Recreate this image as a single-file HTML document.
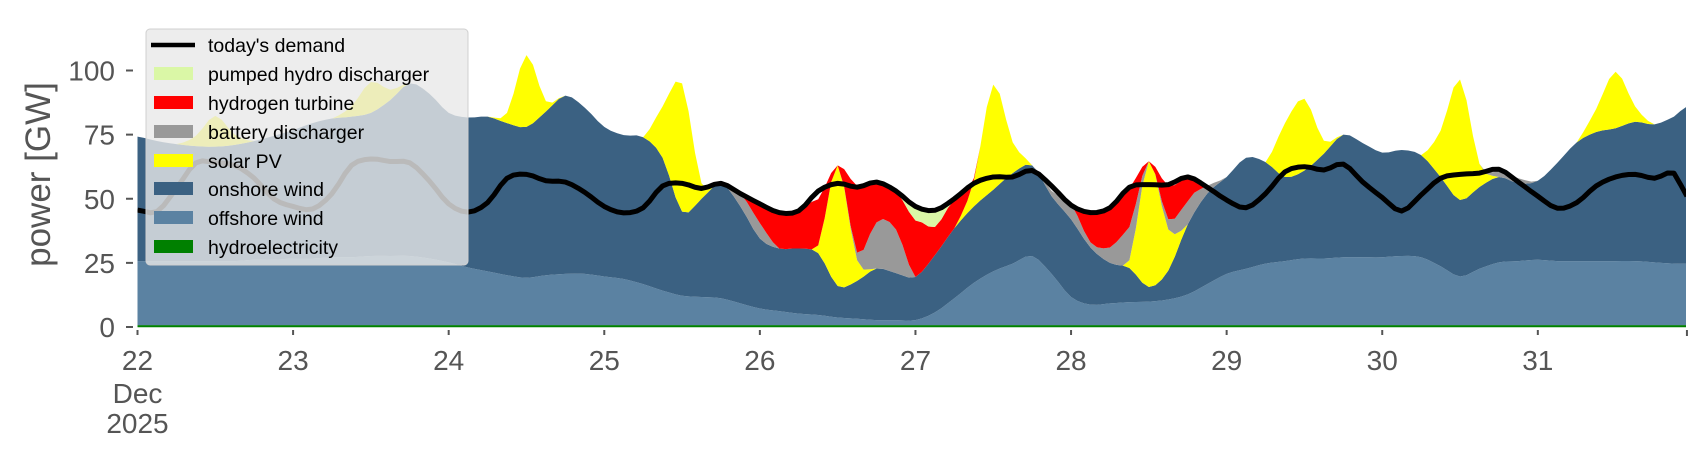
<!DOCTYPE html>
<html><head><meta charset="utf-8"><style>
html,body{margin:0;padding:0;background:#fff;}
svg{display:block;font-family:"Liberation Sans",sans-serif;}
</style></head><body>
<svg id="chart" width="1706" height="460" viewBox="0 0 1706 460" xmlns="http://www.w3.org/2000/svg">
<defs><clipPath id="plotclip"><rect x="137.5" y="0" width="1548.5" height="328"/></clipPath></defs>
<g id="areas" clip-path="url(#plotclip)"></g>
<g id="axes"></g>
<text transform="translate(50,174.5) rotate(-90)" text-anchor="middle" font-size="35" fill="#555">power [GW]</text>
<g>
<rect x="146" y="29" width="322" height="236" rx="4" fill="rgba(232,232,232,0.8)" stroke="#d0d0d0" stroke-width="1"/>
<g font-size="19.5" fill="#000">
<g><line x1="151" y1="45" x2="195" y2="45" stroke="#000" stroke-width="4.5"/><text x="208" y="52">today's demand</text></g>
<g><rect x="154" y="67" width="39" height="13" fill="#daf7a6"/><text x="208" y="81">pumped hydro discharger</text></g>
<g><rect x="154" y="96" width="39" height="13" fill="#ff0000"/><text x="208" y="110">hydrogen turbine</text></g>
<g><rect x="154" y="125" width="39" height="13" fill="#999999"/><text x="208" y="139">battery discharger</text></g>
<g><rect x="154" y="154" width="39" height="13" fill="#ffff00"/><text x="208" y="168">solar PV</text></g>
<g><rect x="154" y="182" width="39" height="13" fill="#3b6182"/><text x="208" y="196">onshore wind</text></g>
<g><rect x="154" y="211" width="39" height="13" fill="#5b82a2"/><text x="208" y="225">offshore wind</text></g>
<g><rect x="154" y="240" width="39" height="13" fill="#008000"/><text x="208" y="254">hydroelectricity</text></g>
</g></g>
</svg>
<script>
// 3-hourly samples (last sample = 23:00 on 31 Dec), values in GW
const hydro = [0.7,0.7,0.7,0.7,0.7,0.7,0.7,0.7,0.7,0.7,0.7,0.7,0.7,0.7,0.7,0.7,0.7,0.7,0.7,0.7,0.7,0.7,0.7,0.7,0.7,0.7,0.7,0.7,0.7,0.7,0.7,0.7,0.7,0.7,0.7,0.7,0.7,0.7,0.7,0.7,0.7,0.7,0.7,0.7,0.7,0.7,0.7,0.7,0.7,0.7,0.7,0.7,0.7,0.7,0.7,0.7,0.7,0.7,0.7,0.7,0.7,0.7,0.7,0.7,0.7,0.7,0.7,0.7,0.7,0.7,0.7,0.7,0.7,0.7,0.7,0.7,0.7,0.7,0.7,0.7,0.7];
const offshore = [25,25,25,25,25,25,25.5,25.5,26,26,26.5,26.5,27,27,27,26,24.5,22.5,21,19.5,18.5,19.5,20,20,19,18,16,13.5,11.5,11,10.5,8.5,6.5,5.5,4.5,4,3,2.5,2,2,2,5,10.5,16.5,21,24,27,20,11,8,8.5,9,9.2,10,12,16,20,22,24,25,26,26,26.5,26.5,26.5,27,26.5,23,19,22,24.5,25,25.5,25,25,25,25,25,24.5,24,24];
const onshore = [48.5,46.8,45.6,44.8,44.6,45.3,46.3,48.3,50.1,52.8,54.1,54.8,55.8,60.8,67.3,64.3,58.3,58.5,60.3,59.3,58.8,63.8,69.5,64.8,58.3,56.1,57.3,51.8,32.8,38.3,44.8,37.8,27.3,24.4,25.4,24.1,12.3,14.8,20.1,18.3,16.8,22.3,27.3,29.8,31.8,35.3,35.3,30.3,30.3,22.3,15.8,13.3,5.7,11.3,27.3,35.3,37.8,43.3,39.6,32.8,34.3,40.9,47.8,44.5,40.8,41.3,39.8,34.8,29.8,31.9,33.3,30.3,30.8,38.3,46.3,50.3,51.8,54.3,53.8,57.3,61.3];
const solar = [0,0,0,4,12,4,0,0,0,0,0,4,12,4,0,0,0,0,0,4,28,4,0,0,0,0,0,20,50,6,0,0,0,0,0,3,47,8,0,0,0,0,0,10,41,12,0,0,0,0,0,3,49,16,0,0,0,0,0,21,28,5,0,0,0,0,0,18,47,9,0,0,0,0,0,9,22,6,0,0,0];
const battery = [0,0,0,0,0,0,0,0,0,0,0,0,0,0,0,0,0,0,0,0,0,0,0,0,0,0,0,0,0,0,0,5,6,0,0,0,0,3,18,17,0,0,0,0,0,0,0,2,6,2,6,13,0,4,9,3,0,0,0,0,0,0,0,0,0,0,0,0,0,0,2,2,0,0,0,0,0,0,0,0,0];
const hydrogen = [0,0,0,0,0,0,0,0,0,0,0,0,0,0,0,0,0,0,0,0,0,0,0,0,0,0,0,0,0,0,0,0,7,14,15,18,0,26,16,15,22,11,11,1,0,0,0,0,0,12,15,15,0,13,9,0,0,0,0,0,0,0,0,0,0,0,0,0,0,0,0,0,0,0,0,0,0,0,0,0,0];
const pumped = [0,0,0,0,0,0,0,0,0,0,0,0,0,0,0,0,0,0,0,0,0,0,0,0,0,0,0,0,0,0,0,0,0,0,0,0,0,0,0,0,5,6.5,0,0,0,0,0,0,0,0,0,0,0,0,0,0,0,0,0,0,0,0,0,0,0,0,0,0,0,0,0,0,0,0,0,0,0,0,0,0,0];
const demand = [45.6,45,54,64,64,63,58,50,47,46,52,63,65.5,64.5,64,57,48,44.8,48.5,58,59.5,57,56.5,52.5,47,44.5,46.5,55,56,54,56,52,48,44.6,45.3,53,56,54.5,56.5,53,47,45.5,50,56,58.5,58.5,61,55,47.5,44.6,46.5,54.5,55.5,55.5,58.5,54.5,49.5,46.5,52,60.5,62.5,61.2,63.5,56.5,50.5,45.2,51.5,58,59.5,60,61.5,56.5,51,46.3,48.5,55,58.5,59.5,58,60,51];
const dayLabels = ["22","23","24","25","26","27","28","29","30","31"];
const yTicks = [0,25,50,75,100];

const NS = "http://www.w3.org/2000/svg";
const X0 = 137.5, PXH = 6.483, Y0 = 327, PXG = 2.565;
const xs = h => X0 + h * PXH;
const ys = v => Y0 - v * PXG;
const hourOf = i => Math.min(i * 3, 239);

// smooth rendering: Catmull-Rom resample of each series to hourly, clamped >= 0
function resample(arr) {
  const out = [], hrs = [];
  const m = arr.length;
  for (let i = 0; i < m - 1; i++) {
    const p0 = arr[Math.max(i - 1, 0)], p1 = arr[i], p2 = arr[i + 1], p3 = arr[Math.min(i + 2, m - 1)];
    const h0 = hourOf(i), h1 = hourOf(i + 1);
    const steps = Math.max(1, Math.round(h1 - h0));
    for (let s = 0; s < steps; s++) {
      const t = s / steps;
      const v = 0.5 * ((2 * p1) + (-p0 + p2) * t + (2 * p0 - 5 * p1 + 4 * p2 - p3) * t * t + (-p0 + 3 * p1 - 3 * p2 + p3) * t * t * t);
      out.push(Math.max(0, v));
      hrs.push(h0 + (h1 - h0) * t);
    }
  }
  out.push(arr[m - 1]); hrs.push(hourOf(m - 1));
  return {v: out, h: hrs};
}

const layers = [
  {name:"hydro-area", data:hydro, color:"#008000"},
  {name:"offshore-wind-area", data:offshore, color:"#5b82a2"},
  {name:"onshore-wind-area", data:onshore, color:"#3b6182"},
  {name:"solar-pv-area", data:solar, color:"#ffff00"},
  {name:"battery-discharger-area", data:battery, color:"#999999"},
  {name:"hydrogen-turbine-area", data:hydrogen, color:"#ff0000"},
  {name:"pumped-hydro-area", data:pumped, color:"#daf7a6"}
];
const areas = document.getElementById("areas");
let base = null, H = null;
layers.forEach(L => {
  const r = resample(L.data);
  H = r.h;
  if (!base) base = new Array(r.v.length).fill(0);
  const top = base.map((b, i) => b + r.v[i]);
  let d = "";
  for (let i = 0; i < top.length; i++) d += (i ? "L" : "M") + xs(H[i]).toFixed(2) + "," + ys(top[i]).toFixed(2);
  for (let i = top.length - 1; i >= 0; i--) d += "L" + xs(H[i]).toFixed(2) + "," + ys(base[i]).toFixed(2);
  const p = document.createElementNS(NS, "path");
  p.setAttribute("d", d + "Z");
  p.setAttribute("fill", L.color);
  
  
  areas.appendChild(p);
  base = top;
});
const hl = document.createElementNS(NS, "line");
hl.setAttribute("x1", X0); hl.setAttribute("x2", xs(239));
hl.setAttribute("y1", ys(0.3)); hl.setAttribute("y2", ys(0.3));
hl.setAttribute("stroke", "#008000"); hl.setAttribute("stroke-width", "2");


areas.appendChild(hl);
const rd = resample(demand);
let dd = "";
for (let i = 0; i < rd.v.length; i++) dd += (i ? "L" : "M") + xs(rd.h[i]).toFixed(2) + "," + ys(rd.v[i]).toFixed(2);
const dl = document.createElementNS(NS, "path");
dl.setAttribute("d", dd);
dl.setAttribute("fill", "none"); dl.setAttribute("stroke", "#000");
dl.setAttribute("stroke-width", "5"); dl.setAttribute("stroke-linejoin", "round");


areas.appendChild(dl);

const axes = document.getElementById("axes");
function txt(x, y, s, anchor, size) {
  const t = document.createElementNS(NS, "text");
  t.setAttribute("x", x); t.setAttribute("y", y);
  t.setAttribute("text-anchor", anchor); t.setAttribute("font-size", size);
  t.setAttribute("fill", "#555");
  t.textContent = s;
  return t;
}
dayLabels.forEach((lab, d) => {
  const x = xs(d * 24);
  const tk = document.createElementNS(NS, "line");
  tk.setAttribute("x1", x); tk.setAttribute("x2", x); tk.setAttribute("y1", 330); tk.setAttribute("y2", 335);
  tk.setAttribute("stroke", "#555"); tk.setAttribute("stroke-width", "2");
  
  
  axes.appendChild(tk);
  const t = txt(x, 370, lab, "middle", 28);
  
  
  axes.appendChild(t);
});
const endTick = document.createElementNS(NS, "line");
endTick.setAttribute("x1", xs(239)); endTick.setAttribute("x2", xs(239));
endTick.setAttribute("y1", 330); endTick.setAttribute("y2", 336);
endTick.setAttribute("stroke", "#555"); endTick.setAttribute("stroke-width", "2");


axes.appendChild(endTick);
const mon = txt(xs(0), 403, "Dec", "middle", 28);


axes.appendChild(mon);
const yr = txt(xs(0), 433, "2025", "middle", 28);


axes.appendChild(yr);
yTicks.forEach(v => {
  const y = ys(v);
  const tk = document.createElementNS(NS, "line");
  tk.setAttribute("x1", 126); tk.setAttribute("x2", 133); tk.setAttribute("y1", y); tk.setAttribute("y2", y);
  tk.setAttribute("stroke", "#555"); tk.setAttribute("stroke-width", "2");
  
  
  axes.appendChild(tk);
  const t = txt(115, y + 10, String(v), "end", 28);
  
  
  axes.appendChild(t);
});
</script>
</body></html>
